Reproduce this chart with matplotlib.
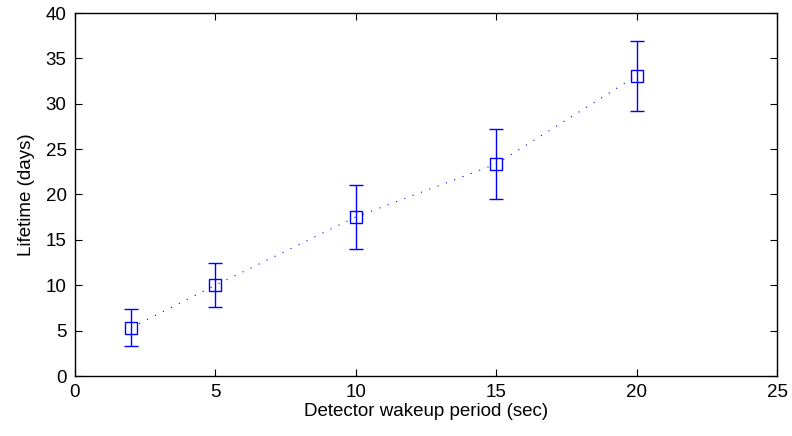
import numpy as np
import matplotlib
matplotlib.use("Agg")
import matplotlib.pyplot as plt

# data
period = [2, 5, 10, 15, 20]
lifetime = [5.34, 10.0, 17.53, 23.36, 33.08]
err_low = [3.31, 7.57, 13.97, 19.51, 29.2]
err_high = [7.39, 12.4, 21.06, 27.2, 36.9]

xticks = [0, 5, 10, 15, 20, 25]
yticks = [0, 5, 10, 15, 20, 25, 30, 35, 40]

plt.rcParams['font.family'] = ['Liberation Sans', 'DejaVu Sans']

fig = plt.figure(figsize=(7.92, 4.36), dpi=100)
ax = fig.add_axes([75 / 792, 1 - 376 / 436, (777 - 75) / 792, (376 - 13) / 436])

y = np.array(lifetime)
yerr = [y - np.array(err_low), np.array(err_high) - y]
ax.errorbar(period, lifetime, yerr=yerr, color='#0000ff', linestyle=(0, (1, 7)), linewidth=0.8,
            marker='s', markersize=8, markerfacecolor='none', markeredgewidth=1.0,
            elinewidth=1.0, capsize=5, capthick=1.0)

ax.set_xlim(0, 25)
ax.set_ylim(0, 40)
ax.set_xticks(xticks)
ax.set_yticks(yticks)
ax.tick_params(direction='in', top=True, right=True, length=5, labelsize=13.5, pad=6)
for s in ax.spines.values():
    s.set_linewidth(1.0)

ax.set_xlabel('Detector wakeup period (sec)', fontsize=13.5, labelpad=1)
ax.set_ylabel('Lifetime (days)', fontsize=13.5, labelpad=8)

plt.savefig("out.png", dpi=100)
